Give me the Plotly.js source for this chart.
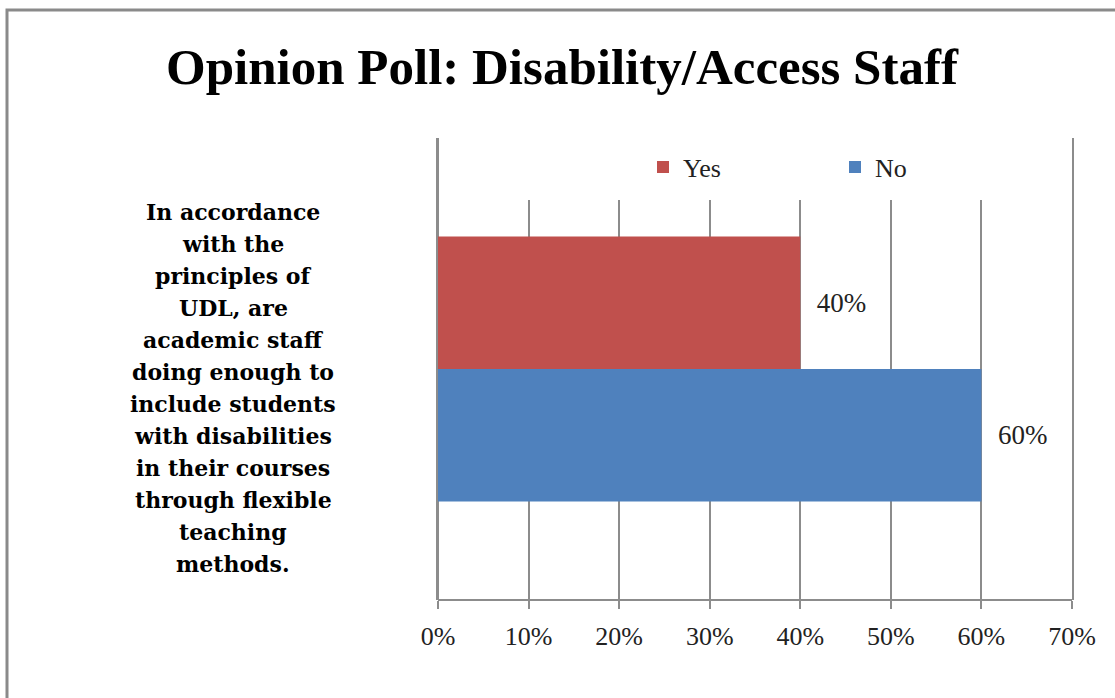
<!DOCTYPE html>
<html><head><meta charset="utf-8">
<script src="https://cdn.plot.ly/plotly-3.0.1.min.js"></script>
<style>html,body{margin:0;padding:0;background:#fff;}#chart{width:1115px;height:698px;}</style>
</head><body><div id="chart"></div>
<script>
var categories = ["In accordance<br>with the<br>principles of<br>UDL, are<br>academic staff<br>doing enough to<br>include students<br>with disabilities<br>in their courses<br>through flexible<br>teaching<br>methods."];
var seriesNames = ["Yes", "No"];
var yesValues = [0.40];
var noValues = [0.60];
var tickVals = [0, 0.1, 0.2, 0.3, 0.4, 0.5, 0.6, 0.7];
var tickText = ["0%", "10%", "20%", "30%", "40%", "50%", "60%", "70%"];

var FONT = "Liberation Serif, Times New Roman, serif";
var QFONT = "DejaVu Serif, serif";
var grid = "#8c8c8c";
var L = 438, R = 1072, T = 138, B = 600, W = 1115, H = 698;
function px(x){ return (x - L) / (R - L); }
function py(y){ return (B - y) / (B - T); }
function lbl(v){ return "\u00a0\u00a0" + Math.round(v * 100) + "%"; }

var traces = [
  {type: "bar", orientation: "h", name: seriesNames[0], x: yesValues, y: categories,
   marker: {color: "#C0504D"}, text: yesValues.map(lbl),
   textposition: "outside", cliponaxis: false, textfont: {family: FONT, size: 27, color: "#222"}, hoverinfo: "none"},
  {type: "bar", orientation: "h", name: seriesNames[1], x: noValues, y: categories,
   marker: {color: "#4F81BD"}, text: noValues.map(lbl),
   textposition: "outside", cliponaxis: false, textfont: {family: FONT, size: 27, color: "#222"}, hoverinfo: "none"}
];

var qLines = categories[0].split("<br>");
var annotations = qLines.map(function(line, i){
  return {xref: "paper", yref: "paper", x: px(233), y: py(212 + 32 * i), xanchor: "center", yanchor: "middle",
          text: "<b>" + line + "</b>", showarrow: false, font: {family: QFONT, size: 22, color: "#000"}};
});

var layout = {
  width: W, height: H,
  margin: {l: L, r: W - R, t: T, b: H - B, pad: 0},
  paper_bgcolor: "#fff", plot_bgcolor: "#fff",
  title: {text: "<b>Opinion Poll: Disability/Access Staff</b>", font: {family: FONT, size: 51, color: "#000"},
          x: 0.504, xanchor: "center", y: 0.880, yanchor: "bottom", xref: "container", yref: "container"},
  barmode: "group", bargap: 0.426, bargroupgap: 0,
  showlegend: true,
  legend: {orientation: "h", x: px(643), y: py(167), xanchor: "left", yanchor: "middle",
           font: {family: FONT, size: 26, color: "#222"}, entrywidth: 147, entrywidthmode: "pixels",
           bgcolor: "rgba(0,0,0,0)"},
  xaxis: {range: [0, 0.7], tickvals: tickVals, ticktext: tickText, showgrid: true, gridcolor: grid, gridwidth: 2,
          zeroline: true, zerolinecolor: grid, zerolinewidth: 2, showline: false, automargin: false,
          ticks: "outside", ticklen: 8, tickwidth: 2, tickcolor: grid, ticklabelstandoff: 5,
          tickfont: {family: FONT, size: 26, color: "#222"}, fixedrange: true},
  yaxis: {autorange: "reversed", showticklabels: false, showgrid: false, zeroline: false,
          showline: true, mirror: true, linecolor: grid, linewidth: 2,
          ticks: "", fixedrange: true, automargin: false},
  annotations: annotations,
  shapes: [
    {type: "rect", xref: "paper", yref: "paper", x0: px(441), x1: px(1069), y0: py(200), y1: py(136),
     line: {width: 0}, fillcolor: "#ffffff", layer: "above"},
    {type: "line", xref: "paper", yref: "paper", x0: 0, x1: 1, y0: 0, y1: 0, line: {color: grid, width: 2}},
    {type: "rect", xref: "paper", yref: "paper", x0: px(7), x1: px(W + 20), y0: py(10), y1: py(H + 20),
     line: {color: "#8a8a8a", width: 3}, fillcolor: "rgba(0,0,0,0)", layer: "above"}
  ]
};

Plotly.newPlot("chart", traces, layout, {displayModeBar: false, staticPlot: true});
</script></body></html>
